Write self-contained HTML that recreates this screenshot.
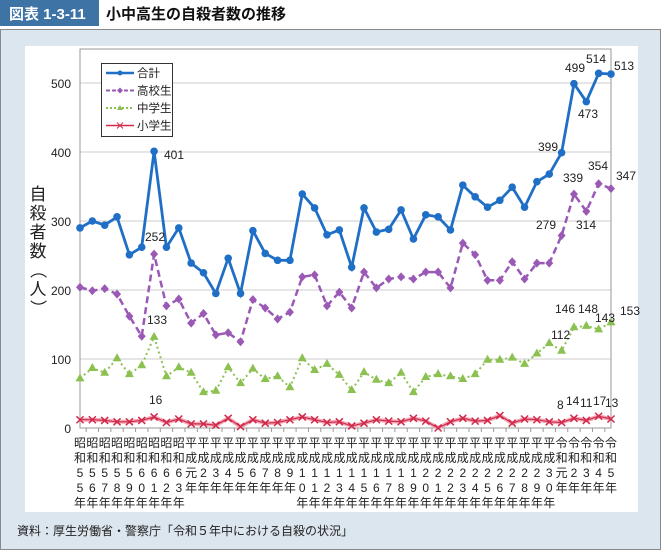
<!DOCTYPE html>
<html><head><meta charset="utf-8">
<style>
body{margin:0;width:661px;height:553px;overflow:hidden;background:#fff;font-family:"Liberation Sans","Noto Sans CJK JP",sans-serif}
</style></head><body>
<svg id="s" width="661" height="553" xmlns="http://www.w3.org/2000/svg" font-family="Liberation Sans, Noto Sans CJK JP, sans-serif">
<rect x="0" y="0" width="661" height="27" fill="#fff"/>
<rect x="0" y="0" width="99" height="26" fill="#3e73a6"/>
<text x="9" y="19" fill="#fff" font-size="15" font-weight="bold">図表 1-3-11</text>
<text x="106" y="19" fill="#111" font-size="15" font-weight="bold">小中高生の自殺者数の推移</text>
<rect x="0.5" y="29.5" width="660" height="520" fill="#dce6ef" stroke="#888"/>
<rect x="25" y="46" width="613" height="466" fill="#fff"/>
<text x="17" y="535" font-size="12" fill="#222">資料：厚生労働省・警察庁「令和５年中における自殺の状況」</text>
<g id="g"></g>
</svg>
<script>
const g=document.getElementById('g');let h='';
const X=i=>80+i*531/43, Y=v=>428-v*0.69;
for(let v=100;v<=500;v+=100){h+=`<line x1="80" x2="611" y1="${Y(v)}" y2="${Y(v)}" stroke="#ccc"/>`}
for(let v=0;v<=500;v+=100){h+=`<text x="71" y="${Y(v)+5}" font-size="12" text-anchor="end" fill="#222">${v}</text>`}
h+=`<rect x="80" y="49" width="531" height="379" fill="none" stroke="#999"/>`;
for(let i=0;i<=44;i++){const x=80+(i-0.5)*531/43;if(x>=80&&x<=611)h+=`<line x1="${x}" x2="${x}" y1="428" y2="432" stroke="#999"/>`}
// y label
"自殺者数（人）".split('').forEach((c,k)=>{h+=`<text x="38" y="${200+k*19}" font-size="17" text-anchor="middle" fill="#222"${(c=='（'||c=='）')?` transform="rotate(90 38 ${194+k*19})"`:''}>${c}</text>`});
// x labels
const cols=[];
for(let n=55;n<=63;n++)cols.push(['昭','和',String(n)[0],String(n)[1],'年']);
cols.push(['平','成','元','年','']);
for(let n=2;n<=9;n++)cols.push(['平','成',String(n),'年','']);
for(let n=10;n<=30;n++)cols.push(['平','成',String(n)[0],String(n)[1],'年']);
cols.push(['令','和','元','年','']);
for(let n=2;n<=5;n++)cols.push(['令','和',String(n),'年','']);
cols.forEach((c,i)=>c.forEach((t,r)=>{if(t)h+=`<text x="${X(i)}" y="${447+r*15}" font-size="12" text-anchor="middle" fill="#222">${t}</text>`}));
const tot=[290,300,294,306,251,262,401,262,290,239,225,195,246,195,286,253,243,243,339,319,280,287,233,319,284,288,316,274,309,306,287,352,335,320,330,349,320,357,368,399,499,473,514,513];
const hs=[204,199,202,194,162,160,252,177,187,152,166,135,138,125,186,174,158,168,219,222,177,197,174,226,203,216,219,216,226,226,203,268,251,214,214,241,216,239,239,279,339,314,354,347];
hs[5]=133;
const jh=[72,87,80,101,78,91,132,75,88,80,52,54,88,65,86,71,75,59,101,84,93,77,55,81,70,65,80,52,74,78,75,71,78,99,99,102,93,108,123,112,146,148,143,153];
const el=[12,12,11,9,9,11,16,8,13,6,6,4,14,2,12,7,8,12,16,12,8,9,3,7,12,10,9,14,10,0,9,14,10,11,18,7,13,12,9,8,14,11,17,13];
const pts=a=>a.map((v,i)=>X(i).toFixed(1)+','+Y(v).toFixed(1)).join(' ');
h+=`<polyline points="${pts(el)}" fill="none" stroke="#f2a8b8" stroke-width="4"/>`;
h+=`<polyline points="${pts(el)}" fill="none" stroke="#d02a4a" stroke-width="1.2"/>`;
el.forEach((v,i)=>{const x=X(i),y=Y(v);h+=`<path d="M${x-3.5} ${y-3.5}L${x+3.5} ${y+3.5}M${x-3.5} ${y+3.5}L${x+3.5} ${y-3.5}" stroke="#d02a4a" stroke-width="1.5"/>`});
h+=`<polyline points="${pts(jh)}" fill="none" stroke="#8cc152" stroke-width="2" stroke-dasharray="2,3"/>`;
jh.forEach((v,i)=>{const x=X(i),y=Y(v);h+=`<path d="M${x} ${y-5}L${x+4.5} ${y+3}L${x-4.5} ${y+3}Z" fill="#8cc152"/>`});
h+=`<polyline points="${pts(hs)}" fill="none" stroke="#9b59b6" stroke-width="2.5" stroke-dasharray="7,4"/>`;
hs.forEach((v,i)=>{const x=X(i),y=Y(v);h+=`<path d="M${x} ${y-4.5}L${x+4} ${y}L${x} ${y+4.5}L${x-4} ${y}Z" fill="#9b59b6"/>`});
h+=`<polyline points="${pts(tot)}" fill="none" stroke="#1f6fc6" stroke-width="2.8"/>`;
tot.forEach((v,i)=>{h+=`<circle cx="${X(i)}" cy="${Y(v)}" r="3.8" fill="#1f6fc6"/>`});
const L=[[164,159,'401'],[145,241,'252'],[147,324,'133'],[149,404,'16'],[538,151,'399'],[565,72,'499'],[586,63,'514'],[614,70,'513'],[578,118,'473'],[588,170,'354'],[563,182,'339'],[616,180,'347'],[536,229,'279'],[576,229,'314'],[555,313,'146'],[578,313,'148'],[595,322,'143'],[620,315,'153'],[551,339,'112'],[557,409,'8'],[566,405,'14'],[580,407,'11'],[593,405,'17'],[605,407,'13']];
L.forEach(l=>h+=`<text x="${l[0]}" y="${l[1]}" font-size="12" fill="#222">${l[2]}</text>`);
// legend
h+=`<rect x="101.5" y="63.5" width="71" height="73" fill="#fff" stroke="#333"/>`;
const lg=[['合計','#1f6fc6','',2.5],['高校生','#9b59b6','4,2',2],['中学生','#8cc152','2,2',2],['小学生','#d02a4a','',1.5]];
lg.forEach((e,k)=>{const y=73+k*17.5;h+=`<line x1="106" x2="134" y1="${y}" y2="${y}" stroke="${e[1]}" stroke-width="${e[3]}" stroke-dasharray="${e[2]}"/>`;
if(k==0)h+=`<circle cx="120" cy="${y}" r="2.5" fill="${e[1]}"/>`;
if(k==1)h+=`<path d="M120 ${y-3}L123 ${y}L120 ${y+3}L117 ${y}Z" fill="${e[1]}"/>`;
if(k==2)h+=`<path d="M120 ${y-3}L123 ${y+2}L117 ${y+2}Z" fill="${e[1]}"/>`;
if(k==3)h+=`<path d="M117 ${y-3}L123 ${y+3}M117 ${y+3}L123 ${y-3}" stroke="${e[1]}"/>`;
h+=`<text x="137" y="${y+4}" font-size="11.5" fill="#222">${e[0]}</text>`});
g.innerHTML=h;
</script>
</body></html>
